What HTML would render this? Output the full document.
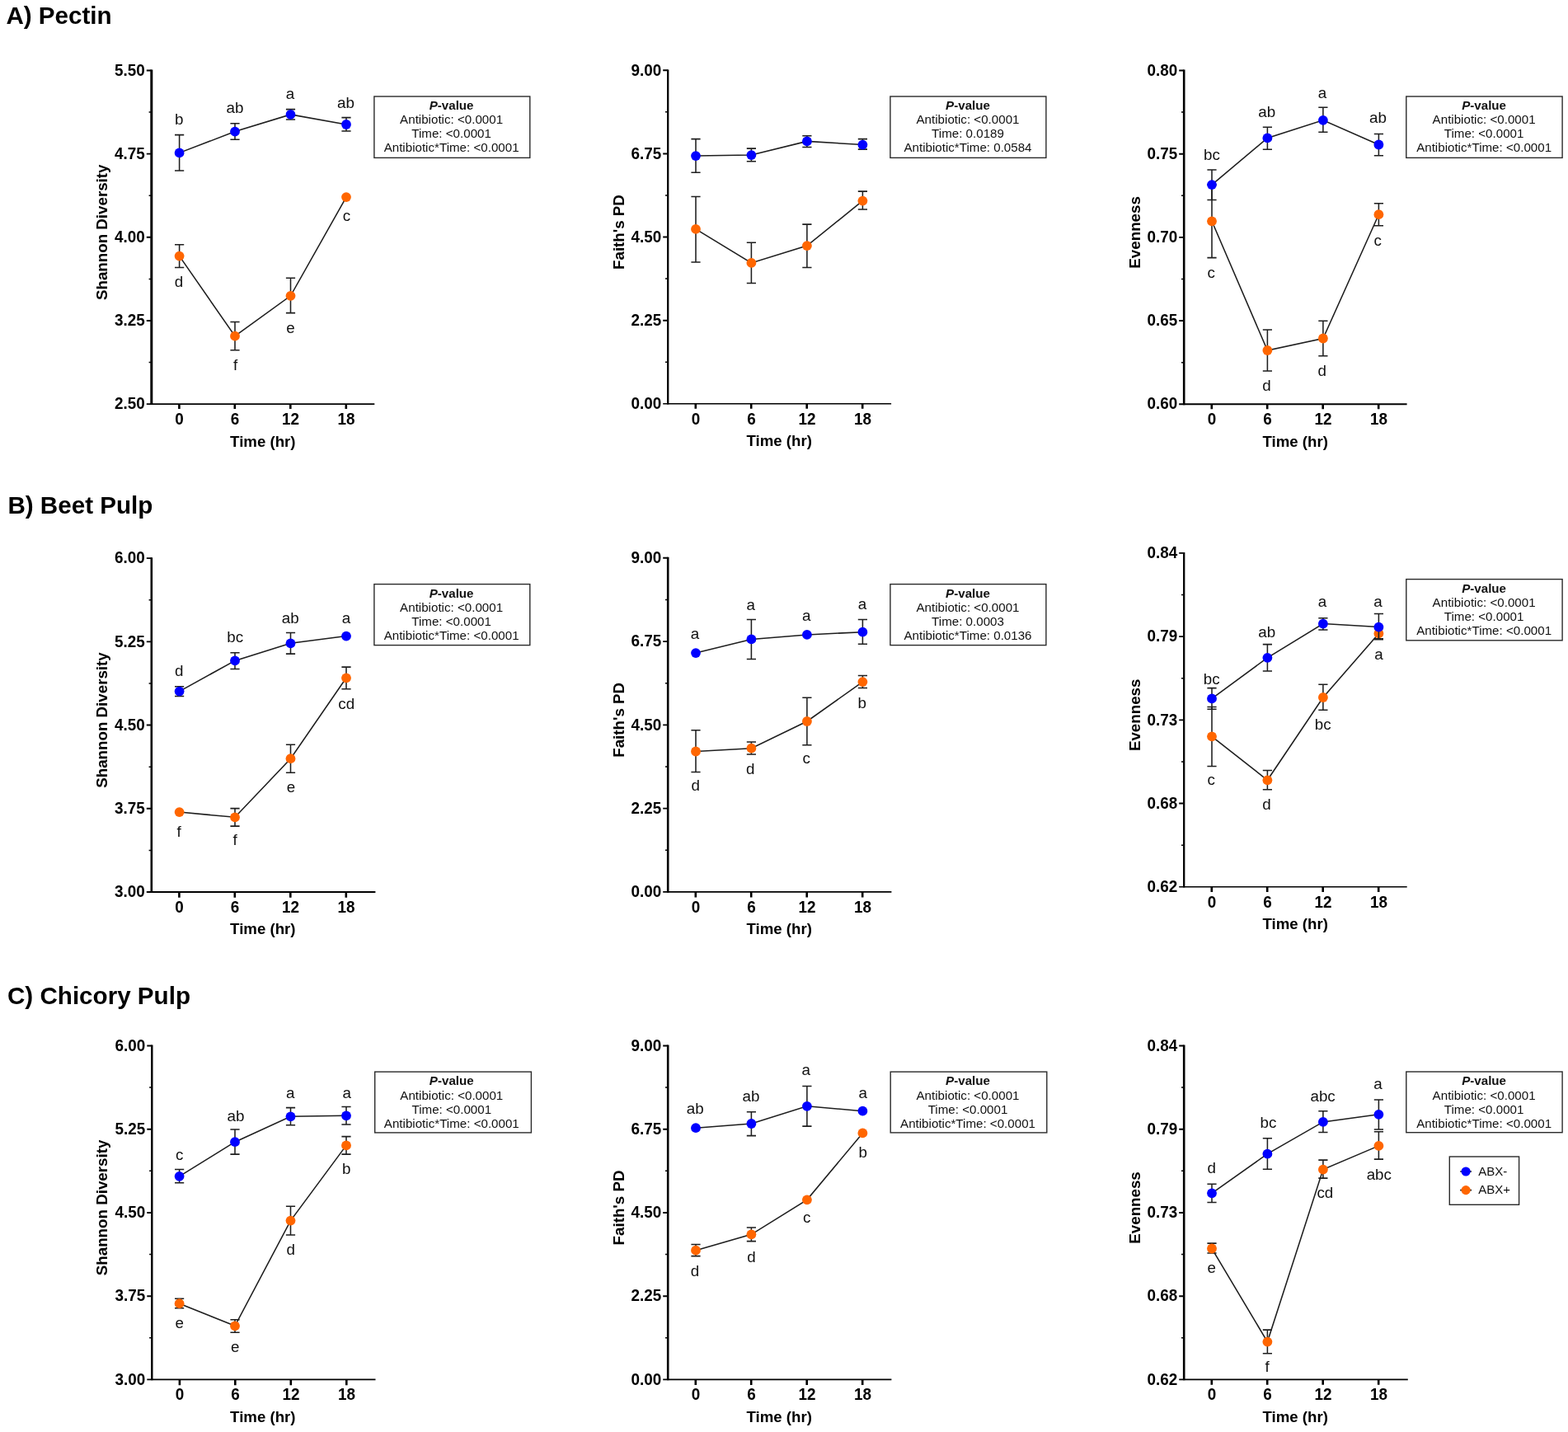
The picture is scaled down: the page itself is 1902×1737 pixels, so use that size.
<!DOCTYPE html>
<html lang="en"><head><meta charset="utf-8"><title>Alpha diversity: Pectin, Beet Pulp, Chicory Pulp</title>
<style>
html,body{margin:0;padding:0;background:#fff;}
body{width:1902px;height:1737px;overflow:hidden;}
svg{display:block;font-family:"Liberation Sans",sans-serif;}
.t{font-weight:700;font-size:29.6px;fill:#000;}
.yl{font-weight:700;font-size:19.5px;fill:#000;text-anchor:end;}
.xl{font-weight:700;font-size:19.5px;fill:#000;text-anchor:middle;}
.al{font-weight:700;font-size:19px;fill:#000;text-anchor:middle;}
.ayl{font-weight:700;font-size:18.5px;fill:#000;text-anchor:middle;}
.an{font-size:19px;fill:#111;text-anchor:middle;}
.pv{font-size:15px;fill:#111;text-anchor:middle;}
.pb{fill:#fff;stroke:#2a2a2a;stroke-width:1.4;}
.ay{stroke:#000;stroke-width:2.6;fill:none;}
.axh{stroke:#000;stroke-width:1.9;fill:none;}
.mt{stroke:#000;stroke-width:1.5;fill:none;}
.ln{stroke:#1e1e1e;stroke-width:1.55;fill:none;}
.eb{stroke:#1e1e1e;stroke-width:1.55;fill:none;}
.b{fill:#0000ff;}
.o{fill:#ff6600;}
.lg{font-size:15px;fill:#111;}
</style></head><body>
<svg width="1902" height="1737" viewBox="0 0 1902 1737">
<rect width="1902" height="1737" fill="#fff"/>
<text class="t" x="7.4" y="29.2">A) Pectin</text>
<text class="t" x="9.4" y="623.4">B) Beet Pulp</text>
<text class="t" x="9" y="1217.6">C) Chicory Pulp</text>
<g>
<path class="ay" style="stroke-width:3" d="M183.8 84.55 V491.05"/>
<path class="axh" style="stroke-width:1.9" d="M177.8 490.1 H454.3"/>
<path class="axh" d="M177.8 85.5 H183.8M177.8 186.65 H183.8M177.8 287.8 H183.8M177.8 388.95 H183.8"/>
<path class="ay" d="M217.4 490.1 V495.9M284.8 490.1 V495.9M352.3 490.1 V495.9M419.8 490.1 V495.9"/>
<path class="mt" d="M180.6 136.07 H183.8M180.6 237.23 H183.8M180.6 338.38 H183.8M180.6 439.53 H183.8"/>
<text class="yl" transform="translate(175.8 91.7) scale(0.970 1)">5.50</text>
<text class="yl" transform="translate(175.8 192.85) scale(0.970 1)">4.75</text>
<text class="yl" transform="translate(175.8 294) scale(0.970 1)">4.00</text>
<text class="yl" transform="translate(175.8 395.15) scale(0.970 1)">3.25</text>
<text class="yl" transform="translate(175.8 496.3) scale(0.970 1)">2.50</text>
<text class="xl" transform="translate(217.6 515.1) scale(0.970 1)">0</text>
<text class="xl" transform="translate(285 515.1) scale(0.970 1)">6</text>
<text class="xl" transform="translate(352.5 515.1) scale(0.970 1)">12</text>
<text class="xl" transform="translate(420 515.1) scale(0.970 1)">18</text>
<text class="al" transform="translate(318.8 541.5) scale(0.982 1)">Time (hr)</text>
<text class="ayl" transform="translate(130.3 281.8) rotate(-90) scale(1.014 1)">Shannon Diversity</text>
<path class="eb" d="M217.6 296.7 V324.4M212 296.7 H223.2M212 324.4 H223.2M285 390.4 V424.7M279.4 390.4 H290.6M279.4 424.7 H290.6M352.5 337.3 V379.6M346.9 337.3 H358.1M346.9 379.6 H358.1"/>
<polyline class="ln" points="217.6,310.6 285,407.7 352.5,358.8 420,239.1"/>
<circle class="o" cx="217.6" cy="310.6" r="5.9"/>
<circle class="o" cx="285" cy="407.7" r="5.9"/>
<circle class="o" cx="352.5" cy="358.8" r="5.9"/>
<circle class="o" cx="420" cy="239.1" r="5.9"/>
<path class="eb" d="M217.6 163.6 V206.9M212 163.6 H223.2M212 206.9 H223.2M285 149.7 V169.2M279.4 149.7 H290.6M279.4 169.2 H290.6M352.5 132.6 V145M346.9 132.6 H358.1M346.9 145 H358.1M420 142.6 V158.9M414.4 142.6 H425.6M414.4 158.9 H425.6"/>
<polyline class="ln" points="217.6,185.4 285,159.6 352.5,138.9 420,151"/>
<circle class="b" cx="217.6" cy="185.4" r="5.9"/>
<circle class="b" cx="285" cy="159.6" r="5.9"/>
<circle class="b" cx="352.5" cy="138.9" r="5.9"/>
<circle class="b" cx="420" cy="151" r="5.9"/>
<text class="an" transform="translate(217.2 151) scale(0.990 1)">b</text>
<text class="an" transform="translate(285 137) scale(0.990 1)">ab</text>
<text class="an" transform="translate(352 120) scale(0.990 1)">a</text>
<text class="an" transform="translate(419.5 131) scale(0.990 1)">ab</text>
<text class="an" transform="translate(217 348) scale(0.990 1)">d</text>
<text class="an" transform="translate(285.6 449) scale(0.990 1)">f</text>
<text class="an" transform="translate(352.5 404) scale(0.990 1)">e</text>
<text class="an" transform="translate(420.5 268) scale(0.990 1)">c</text>
<rect class="pb" x="453.9" y="117" width="188.9" height="74.4"/>
<text class="pv" transform="translate(547.6 133) scale(1.010 1)" font-weight="700"><tspan font-style="italic">P</tspan>-value</text>
<text class="pv" transform="translate(547.6 150) scale(1.010 1)">Antibiotic: &lt;0.0001</text>
<text class="pv" transform="translate(547.6 167) scale(1.010 1)">Time: &lt;0.0001</text>
<text class="pv" transform="translate(547.6 184) scale(1.010 1)">Antibiotic*Time: &lt;0.0001</text>
</g>
<g>
<path class="ay" style="stroke-width:2.3" d="M810.2 84.5 V490.6"/>
<path class="axh" style="stroke-width:1.6" d="M804.2 489.8 H1081.1"/>
<path class="axh" d="M804.2 85.3 H810.2M804.2 186.43 H810.2M804.2 287.55 H810.2M804.2 388.68 H810.2"/>
<path class="ay" d="M843.8 489.8 V495.7M911.2 489.8 V495.7M978.7 489.8 V495.7M1046.2 489.8 V495.7"/>
<path class="mt" d="M807 135.86 H810.2M807 236.99 H810.2M807 338.11 H810.2M807 439.24 H810.2"/>
<text class="yl" transform="translate(802.2 91.5) scale(0.970 1)">9.00</text>
<text class="yl" transform="translate(802.2 192.62) scale(0.970 1)">6.75</text>
<text class="yl" transform="translate(802.2 293.75) scale(0.970 1)">4.50</text>
<text class="yl" transform="translate(802.2 394.88) scale(0.970 1)">2.25</text>
<text class="yl" transform="translate(802.2 496) scale(0.970 1)">0.00</text>
<text class="xl" transform="translate(844 514.8) scale(0.970 1)">0</text>
<text class="xl" transform="translate(911.4 514.8) scale(0.970 1)">6</text>
<text class="xl" transform="translate(978.9 514.8) scale(0.970 1)">12</text>
<text class="xl" transform="translate(1046.4 514.8) scale(0.970 1)">18</text>
<text class="al" transform="translate(945.2 541.2) scale(0.982 1)">Time (hr)</text>
<text class="ayl" transform="translate(756.7 281.55) rotate(-90) scale(1.014 1)">Faith&#39;s PD</text>
<path class="eb" d="M844 238.4 V317.9M838.4 238.4 H849.6M838.4 317.9 H849.6M911.4 294.3 V343.5M905.8 294.3 H917M905.8 343.5 H917M978.9 272.1 V324.4M973.3 272.1 H984.5M973.3 324.4 H984.5M1046.4 232.1 V254M1040.8 232.1 H1052M1040.8 254 H1052"/>
<polyline class="ln" points="844,277.9 911.4,318.9 978.9,298.1 1046.4,243.6"/>
<circle class="o" cx="844" cy="277.9" r="5.9"/>
<circle class="o" cx="911.4" cy="318.9" r="5.9"/>
<circle class="o" cx="978.9" cy="298.1" r="5.9"/>
<circle class="o" cx="1046.4" cy="243.6" r="5.9"/>
<path class="eb" d="M844 168.6 V209.2M838.4 168.6 H849.6M838.4 209.2 H849.6M911.4 180.1 V195.7M905.8 180.1 H917M905.8 195.7 H917M978.9 164.8 V178.4M973.3 164.8 H984.5M973.3 178.4 H984.5M1046.4 168.6 V181.1M1040.8 168.6 H1052M1040.8 181.1 H1052"/>
<polyline class="ln" points="844,189.1 911.4,188.1 978.9,171.4 1046.4,175.6"/>
<circle class="b" cx="844" cy="189.1" r="5.9"/>
<circle class="b" cx="911.4" cy="188.1" r="5.9"/>
<circle class="b" cx="978.9" cy="171.4" r="5.9"/>
<circle class="b" cx="1046.4" cy="175.6" r="5.9"/>
<rect class="pb" x="1079.9" y="117" width="189" height="74.4"/>
<text class="pv" transform="translate(1174 133) scale(1.010 1)" font-weight="700"><tspan font-style="italic">P</tspan>-value</text>
<text class="pv" transform="translate(1174 150) scale(1.010 1)">Antibiotic: &lt;0.0001</text>
<text class="pv" transform="translate(1174 167) scale(1.010 1)">Time: 0.0189</text>
<text class="pv" transform="translate(1174 184) scale(1.010 1)">Antibiotic*Time: 0.0584</text>
</g>
<g>
<path class="ay" style="stroke-width:2.6" d="M1436.2 84.55 V491.2"/>
<path class="axh" style="stroke-width:1.9" d="M1430.2 490.25 H1706.6"/>
<path class="axh" d="M1430.2 85.5 H1436.2M1430.2 186.69 H1436.2M1430.2 287.88 H1436.2M1430.2 389.06 H1436.2"/>
<path class="ay" d="M1469.8 490.25 V496.15M1537.2 490.25 V496.15M1604.7 490.25 V496.15M1672.2 490.25 V496.15"/>
<path class="mt" d="M1433 136.09 H1436.2M1433 237.28 H1436.2M1433 338.47 H1436.2M1433 439.66 H1436.2"/>
<text class="yl" transform="translate(1428.2 91.7) scale(0.970 1)">0.80</text>
<text class="yl" transform="translate(1428.2 192.89) scale(0.970 1)">0.75</text>
<text class="yl" transform="translate(1428.2 294.07) scale(0.970 1)">0.70</text>
<text class="yl" transform="translate(1428.2 395.26) scale(0.970 1)">0.65</text>
<text class="yl" transform="translate(1428.2 496.45) scale(0.970 1)">0.60</text>
<text class="xl" transform="translate(1470 515.25) scale(0.970 1)">0</text>
<text class="xl" transform="translate(1537.4 515.25) scale(0.970 1)">6</text>
<text class="xl" transform="translate(1604.9 515.25) scale(0.970 1)">12</text>
<text class="xl" transform="translate(1672.4 515.25) scale(0.970 1)">18</text>
<text class="al" transform="translate(1571.2 541.65) scale(0.982 1)">Time (hr)</text>
<text class="ayl" transform="translate(1382.7 281.88) rotate(-90) scale(1.014 1)">Evenness</text>
<path class="eb" d="M1470 224.1 V312.6M1464.4 224.1 H1475.6M1464.4 312.6 H1475.6M1537.4 400 V449.9M1531.8 400 H1543M1531.8 449.9 H1543M1604.9 389.2 V431.7M1599.3 389.2 H1610.5M1599.3 431.7 H1610.5M1672.4 246.7 V273.7M1666.8 246.7 H1678M1666.8 273.7 H1678"/>
<polyline class="ln" points="1470,268.3 1537.4,425 1604.9,410.5 1672.4,260.2"/>
<circle class="o" cx="1470" cy="268.3" r="5.9"/>
<circle class="o" cx="1537.4" cy="425" r="5.9"/>
<circle class="o" cx="1604.9" cy="410.5" r="5.9"/>
<circle class="o" cx="1672.4" cy="260.2" r="5.9"/>
<path class="eb" d="M1470 205.9 V242.4M1464.4 205.9 H1475.6M1464.4 242.4 H1475.6M1537.4 154.3 V181.3M1531.8 154.3 H1543M1531.8 181.3 H1543M1604.9 130.3 V160.3M1599.3 130.3 H1610.5M1599.3 160.3 H1610.5M1672.4 162.4 V188.7M1666.8 162.4 H1678M1666.8 188.7 H1678"/>
<polyline class="ln" points="1470,224.1 1537.4,167.4 1604.9,145.8 1672.4,175.5"/>
<circle class="b" cx="1470" cy="224.1" r="5.9"/>
<circle class="b" cx="1537.4" cy="167.4" r="5.9"/>
<circle class="b" cx="1604.9" cy="145.8" r="5.9"/>
<circle class="b" cx="1672.4" cy="175.5" r="5.9"/>
<text class="an" transform="translate(1470 194) scale(0.990 1)">bc</text>
<text class="an" transform="translate(1536.8 142) scale(0.990 1)">ab</text>
<text class="an" transform="translate(1604 119) scale(0.990 1)">a</text>
<text class="an" transform="translate(1671.5 149) scale(0.990 1)">ab</text>
<text class="an" transform="translate(1469.3 337) scale(0.990 1)">c</text>
<text class="an" transform="translate(1536.4 474) scale(0.990 1)">d</text>
<text class="an" transform="translate(1603.6 456) scale(0.990 1)">d</text>
<text class="an" transform="translate(1671.1 298) scale(0.990 1)">c</text>
<rect class="pb" x="1705.8" y="117" width="189.3" height="74.4"/>
<text class="pv" transform="translate(1800.1 133) scale(1.010 1)" font-weight="700"><tspan font-style="italic">P</tspan>-value</text>
<text class="pv" transform="translate(1800.1 150) scale(1.010 1)">Antibiotic: &lt;0.0001</text>
<text class="pv" transform="translate(1800.1 167) scale(1.010 1)">Time: &lt;0.0001</text>
<text class="pv" transform="translate(1800.1 184) scale(1.010 1)">Antibiotic*Time: &lt;0.0001</text>
</g>
<g>
<path class="ay" style="stroke-width:2.6" d="M183.8 676.15 V1082.95"/>
<path class="axh" style="stroke-width:1.9" d="M177.8 1082 H455.4"/>
<path class="axh" d="M177.8 677.1 H183.8M177.8 778.33 H183.8M177.8 879.55 H183.8M177.8 980.77 H183.8"/>
<path class="ay" d="M217.4 1082 V1088.7M284.8 1082 V1088.7M352.3 1082 V1088.7M419.8 1082 V1088.7"/>
<path class="mt" d="M180.6 727.71 H183.8M180.6 828.94 H183.8M180.6 930.16 H183.8M180.6 1031.39 H183.8"/>
<text class="yl" transform="translate(175.8 683.3) scale(0.970 1)">6.00</text>
<text class="yl" transform="translate(175.8 784.53) scale(0.970 1)">5.25</text>
<text class="yl" transform="translate(175.8 885.75) scale(0.970 1)">4.50</text>
<text class="yl" transform="translate(175.8 986.98) scale(0.970 1)">3.75</text>
<text class="yl" transform="translate(175.8 1088.2) scale(0.970 1)">3.00</text>
<text class="xl" transform="translate(217.6 1107) scale(0.970 1)">0</text>
<text class="xl" transform="translate(285 1107) scale(0.970 1)">6</text>
<text class="xl" transform="translate(352.5 1107) scale(0.970 1)">12</text>
<text class="xl" transform="translate(420 1107) scale(0.970 1)">18</text>
<text class="al" transform="translate(318.8 1133.4) scale(0.982 1)">Time (hr)</text>
<text class="ayl" transform="translate(130.3 873.55) rotate(-90) scale(1.014 1)">Shannon Diversity</text>
<path class="eb" d="M285 980.6 V1002.1M279.4 980.6 H290.6M279.4 1002.1 H290.6M352.5 903.2 V937.2M346.9 903.2 H358.1M346.9 937.2 H358.1M420 809.1 V835.8M414.4 809.1 H425.6M414.4 835.8 H425.6"/>
<polyline class="ln" points="217.6,985.1 285,991.3 352.5,920.2 420,822.3"/>
<circle class="o" cx="217.6" cy="985.1" r="5.9"/>
<circle class="o" cx="285" cy="991.3" r="5.9"/>
<circle class="o" cx="352.5" cy="920.2" r="5.9"/>
<circle class="o" cx="420" cy="822.3" r="5.9"/>
<path class="eb" d="M217.6 832.7 V844.5M212 832.7 H223.2M212 844.5 H223.2M285 791.7 V811.5M279.4 791.7 H290.6M279.4 811.5 H290.6M352.5 767.4 V793.1M346.9 767.4 H358.1M346.9 793.1 H358.1"/>
<polyline class="ln" points="217.6,838.6 285,801.4 352.5,780.3 420,771.6"/>
<circle class="b" cx="217.6" cy="838.6" r="5.9"/>
<circle class="b" cx="285" cy="801.4" r="5.9"/>
<circle class="b" cx="352.5" cy="780.3" r="5.9"/>
<circle class="b" cx="420" cy="771.6" r="5.9"/>
<text class="an" transform="translate(217.2 820) scale(0.990 1)">d</text>
<text class="an" transform="translate(285.2 779) scale(0.990 1)">bc</text>
<text class="an" transform="translate(352.2 756) scale(0.990 1)">ab</text>
<text class="an" transform="translate(419.9 756) scale(0.990 1)">a</text>
<text class="an" transform="translate(217.2 1015) scale(0.990 1)">f</text>
<text class="an" transform="translate(285.2 1025) scale(0.990 1)">f</text>
<text class="an" transform="translate(352.9 961) scale(0.990 1)">e</text>
<text class="an" transform="translate(420.2 860) scale(0.990 1)">cd</text>
<rect class="pb" x="453.9" y="708.6" width="188.9" height="74"/>
<text class="pv" transform="translate(547.6 725) scale(1.010 1)" font-weight="700"><tspan font-style="italic">P</tspan>-value</text>
<text class="pv" transform="translate(547.6 742) scale(1.010 1)">Antibiotic: &lt;0.0001</text>
<text class="pv" transform="translate(547.6 759) scale(1.010 1)">Time: &lt;0.0001</text>
<text class="pv" transform="translate(547.6 776) scale(1.010 1)">Antibiotic*Time: &lt;0.0001</text>
</g>
<g>
<path class="ay" style="stroke-width:2.6" d="M810.2 675.85 V1082.85"/>
<path class="axh" style="stroke-width:1.9" d="M804.2 1081.9 H1081.4"/>
<path class="axh" d="M804.2 676.8 H810.2M804.2 778.08 H810.2M804.2 879.35 H810.2M804.2 980.62 H810.2"/>
<path class="ay" d="M843.8 1081.9 V1088.4M911.2 1081.9 V1088.4M978.7 1081.9 V1088.4M1046.2 1081.9 V1088.4"/>
<path class="mt" d="M807 727.44 H810.2M807 828.71 H810.2M807 929.99 H810.2M807 1031.26 H810.2"/>
<text class="yl" transform="translate(802.2 683) scale(0.970 1)">9.00</text>
<text class="yl" transform="translate(802.2 784.28) scale(0.970 1)">6.75</text>
<text class="yl" transform="translate(802.2 885.55) scale(0.970 1)">4.50</text>
<text class="yl" transform="translate(802.2 986.83) scale(0.970 1)">2.25</text>
<text class="yl" transform="translate(802.2 1088.1) scale(0.970 1)">0.00</text>
<text class="xl" transform="translate(844 1106.9) scale(0.970 1)">0</text>
<text class="xl" transform="translate(911.4 1106.9) scale(0.970 1)">6</text>
<text class="xl" transform="translate(978.9 1106.9) scale(0.970 1)">12</text>
<text class="xl" transform="translate(1046.4 1106.9) scale(0.970 1)">18</text>
<text class="al" transform="translate(945.2 1133.3) scale(0.982 1)">Time (hr)</text>
<text class="ayl" transform="translate(756.7 873.35) rotate(-90) scale(1.014 1)">Faith&#39;s PD</text>
<path class="eb" d="M844 885.8 V936.5M838.4 885.8 H849.6M838.4 936.5 H849.6M911.4 900 V915M905.8 900 H917M905.8 915 H917M978.9 846.2 V903.8M973.3 846.2 H984.5M973.3 903.8 H984.5M1046.4 819.5 V834.4M1040.8 819.5 H1052M1040.8 834.4 H1052"/>
<polyline class="ln" points="844,911.5 911.4,907.7 978.9,875 1046.4,827.1"/>
<circle class="o" cx="844" cy="911.5" r="5.9"/>
<circle class="o" cx="911.4" cy="907.7" r="5.9"/>
<circle class="o" cx="978.9" cy="875" r="5.9"/>
<circle class="o" cx="1046.4" cy="827.1" r="5.9"/>
<path class="eb" d="M911.4 751.5 V799.4M905.8 751.5 H917M905.8 799.4 H917M1046.4 751.5 V781.3M1040.8 751.5 H1052M1040.8 781.3 H1052"/>
<polyline class="ln" points="844,792.1 911.4,775.4 978.9,769.9 1046.4,766.7"/>
<circle class="b" cx="844" cy="792.1" r="5.9"/>
<circle class="b" cx="911.4" cy="775.4" r="5.9"/>
<circle class="b" cx="978.9" cy="769.9" r="5.9"/>
<circle class="b" cx="1046.4" cy="766.7" r="5.9"/>
<text class="an" transform="translate(843 775) scale(0.990 1)">a</text>
<text class="an" transform="translate(910.7 740) scale(0.990 1)">a</text>
<text class="an" transform="translate(978.3 753) scale(0.990 1)">a</text>
<text class="an" transform="translate(1046 739) scale(0.990 1)">a</text>
<text class="an" transform="translate(843.7 959) scale(0.990 1)">d</text>
<text class="an" transform="translate(910.3 939) scale(0.990 1)">d</text>
<text class="an" transform="translate(978.3 926) scale(0.990 1)">c</text>
<text class="an" transform="translate(1045.6 859) scale(0.990 1)">b</text>
<rect class="pb" x="1079.9" y="708.6" width="189" height="74"/>
<text class="pv" transform="translate(1174 725) scale(1.010 1)" font-weight="700"><tspan font-style="italic">P</tspan>-value</text>
<text class="pv" transform="translate(1174 742) scale(1.010 1)">Antibiotic: &lt;0.0001</text>
<text class="pv" transform="translate(1174 759) scale(1.010 1)">Time: 0.0003</text>
<text class="pv" transform="translate(1174 776) scale(1.010 1)">Antibiotic*Time: 0.0136</text>
</g>
<g>
<path class="ay" style="stroke-width:2.3" d="M1436.2 670.1 V1076.6"/>
<path class="axh" style="stroke-width:1.6" d="M1430.2 1075.8 H1706.7"/>
<path class="axh" d="M1430.2 670.9 H1436.2M1430.2 772.12 H1436.2M1430.2 873.35 H1436.2M1430.2 974.57 H1436.2"/>
<path class="ay" d="M1469.8 1075.8 V1081.9M1537.2 1075.8 V1081.9M1604.7 1075.8 V1081.9M1672.2 1075.8 V1081.9"/>
<path class="mt" d="M1433 721.51 H1436.2M1433 822.74 H1436.2M1433 923.96 H1436.2M1433 1025.19 H1436.2"/>
<text class="yl" transform="translate(1428.2 677.1) scale(0.970 1)">0.84</text>
<text class="yl" transform="translate(1428.2 778.33) scale(0.970 1)">0.79</text>
<text class="yl" transform="translate(1428.2 879.55) scale(0.970 1)">0.73</text>
<text class="yl" transform="translate(1428.2 980.77) scale(0.970 1)">0.68</text>
<text class="yl" transform="translate(1428.2 1082) scale(0.970 1)">0.62</text>
<text class="xl" transform="translate(1470 1100.8) scale(0.970 1)">0</text>
<text class="xl" transform="translate(1537.4 1100.8) scale(0.970 1)">6</text>
<text class="xl" transform="translate(1604.9 1100.8) scale(0.970 1)">12</text>
<text class="xl" transform="translate(1672.4 1100.8) scale(0.970 1)">18</text>
<text class="al" transform="translate(1571.2 1127.2) scale(0.982 1)">Time (hr)</text>
<text class="ayl" transform="translate(1382.7 867.35) rotate(-90) scale(1.014 1)">Evenness</text>
<path class="eb" d="M1470 857.5 V929.4M1464.4 857.5 H1475.6M1464.4 929.4 H1475.6M1537.4 934.5 V957.8M1531.8 934.5 H1543M1531.8 957.8 H1543M1604.9 830.2 V861.2M1599.3 830.2 H1610.5M1599.3 861.2 H1610.5M1672.4 762.3 V774.8M1666.8 762.3 H1678M1666.8 774.8 H1678"/>
<polyline class="ln" points="1470,893.3 1537.4,946.3 1604.9,846 1672.4,768.4"/>
<circle class="o" cx="1470" cy="893.3" r="5.9"/>
<circle class="o" cx="1537.4" cy="946.3" r="5.9"/>
<circle class="o" cx="1604.9" cy="846" r="5.9"/>
<circle class="o" cx="1672.4" cy="768.4" r="5.9"/>
<path class="eb" d="M1470 834.6 V860.2M1464.4 834.6 H1475.6M1464.4 860.2 H1475.6M1537.4 781.6 V814M1531.8 781.6 H1543M1531.8 814 H1543M1604.9 749.8 V764M1599.3 749.8 H1610.5M1599.3 764 H1610.5M1672.4 744.4 V775.8M1666.8 744.4 H1678M1666.8 775.8 H1678"/>
<polyline class="ln" points="1470,847.4 1537.4,797.8 1604.9,756.6 1672.4,760.6"/>
<circle class="b" cx="1470" cy="847.4" r="5.9"/>
<circle class="b" cx="1537.4" cy="797.8" r="5.9"/>
<circle class="b" cx="1604.9" cy="756.6" r="5.9"/>
<circle class="b" cx="1672.4" cy="760.6" r="5.9"/>
<text class="an" transform="translate(1469.6 830) scale(0.990 1)">bc</text>
<text class="an" transform="translate(1536.8 773) scale(0.990 1)">ab</text>
<text class="an" transform="translate(1604 736) scale(0.990 1)">a</text>
<text class="an" transform="translate(1671.5 736) scale(0.990 1)">a</text>
<text class="an" transform="translate(1469.3 952) scale(0.990 1)">c</text>
<text class="an" transform="translate(1536.4 982) scale(0.990 1)">d</text>
<text class="an" transform="translate(1604.6 885) scale(0.990 1)">bc</text>
<text class="an" transform="translate(1672.5 800) scale(0.990 1)">a</text>
<rect class="pb" x="1705.8" y="702.6" width="189.3" height="74.2"/>
<text class="pv" transform="translate(1800.1 719) scale(1.010 1)" font-weight="700"><tspan font-style="italic">P</tspan>-value</text>
<text class="pv" transform="translate(1800.1 736) scale(1.010 1)">Antibiotic: &lt;0.0001</text>
<text class="pv" transform="translate(1800.1 753) scale(1.010 1)">Time: &lt;0.0001</text>
<text class="pv" transform="translate(1800.1 770) scale(1.010 1)">Antibiotic*Time: &lt;0.0001</text>
</g>
<g>
<path class="ay" style="stroke-width:2.4" d="M184.3 1267.55 V1674.35"/>
<path class="axh" style="stroke-width:1.9" d="M178.3 1673.4 H455.5"/>
<path class="axh" d="M178.3 1268.5 H184.3M178.3 1369.72 H184.3M178.3 1470.95 H184.3M178.3 1572.18 H184.3"/>
<path class="ay" d="M217.9 1673.4 V1680.2M285.3 1673.4 V1680.2M352.8 1673.4 V1680.2M420.3 1673.4 V1680.2"/>
<path class="mt" d="M181.1 1319.11 H184.3M181.1 1420.34 H184.3M181.1 1521.56 H184.3M181.1 1622.79 H184.3"/>
<text class="yl" transform="translate(176.3 1274.7) scale(0.970 1)">6.00</text>
<text class="yl" transform="translate(176.3 1375.92) scale(0.970 1)">5.25</text>
<text class="yl" transform="translate(176.3 1477.15) scale(0.970 1)">4.50</text>
<text class="yl" transform="translate(176.3 1578.38) scale(0.970 1)">3.75</text>
<text class="yl" transform="translate(176.3 1679.6) scale(0.970 1)">3.00</text>
<text class="xl" transform="translate(218.1 1698.4) scale(0.970 1)">0</text>
<text class="xl" transform="translate(285.5 1698.4) scale(0.970 1)">6</text>
<text class="xl" transform="translate(353 1698.4) scale(0.970 1)">12</text>
<text class="xl" transform="translate(420.5 1698.4) scale(0.970 1)">18</text>
<text class="al" transform="translate(318.8 1724.8) scale(0.982 1)">Time (hr)</text>
<text class="ayl" transform="translate(130.3 1464.95) rotate(-90) scale(1.014 1)">Shannon Diversity</text>
<path class="eb" d="M217.6 1575.3 V1586.8M212 1575.3 H223.2M212 1586.8 H223.2M285 1600.7 V1616.3M279.4 1600.7 H290.6M279.4 1616.3 H290.6M352.5 1463.3 V1498M346.9 1463.3 H358.1M346.9 1498 H358.1M420 1378.6 V1400.1M414.4 1378.6 H425.6M414.4 1400.1 H425.6"/>
<polyline class="ln" points="217.6,1581.2 285,1608.3 352.5,1480.6 420,1389.4"/>
<circle class="o" cx="217.6" cy="1581.2" r="5.9"/>
<circle class="o" cx="285" cy="1608.3" r="5.9"/>
<circle class="o" cx="352.5" cy="1480.6" r="5.9"/>
<circle class="o" cx="420" cy="1389.4" r="5.9"/>
<path class="eb" d="M217.6 1418.5 V1434.8M212 1418.5 H223.2M212 1434.8 H223.2M285 1369.9 V1400.1M279.4 1369.9 H290.6M279.4 1400.1 H290.6M352.5 1343.6 V1364.7M346.9 1343.6 H358.1M346.9 1364.7 H358.1M420 1342.5 V1364M414.4 1342.5 H425.6M414.4 1364 H425.6"/>
<polyline class="ln" points="217.6,1426.8 285,1385.2 352.5,1354.3 420,1353.3"/>
<circle class="b" cx="217.6" cy="1426.8" r="5.9"/>
<circle class="b" cx="285" cy="1385.2" r="5.9"/>
<circle class="b" cx="352.5" cy="1354.3" r="5.9"/>
<circle class="b" cx="420" cy="1353.3" r="5.9"/>
<text class="an" transform="translate(217.6 1407) scale(0.990 1)">c</text>
<text class="an" transform="translate(285.9 1360) scale(0.990 1)">ab</text>
<text class="an" transform="translate(352.2 1332) scale(0.990 1)">a</text>
<text class="an" transform="translate(420.6 1332) scale(0.990 1)">a</text>
<text class="an" transform="translate(217.6 1611) scale(0.990 1)">e</text>
<text class="an" transform="translate(285.2 1640) scale(0.990 1)">e</text>
<text class="an" transform="translate(352.6 1522) scale(0.990 1)">d</text>
<text class="an" transform="translate(420.2 1424) scale(0.990 1)">b</text>
<rect class="pb" x="454.7" y="1300.1" width="189.7" height="73.8"/>
<text class="pv" transform="translate(547.8 1316) scale(1.010 1)" font-weight="700"><tspan font-style="italic">P</tspan>-value</text>
<text class="pv" transform="translate(547.8 1334) scale(1.010 1)">Antibiotic: &lt;0.0001</text>
<text class="pv" transform="translate(547.8 1351) scale(1.010 1)">Time: &lt;0.0001</text>
<text class="pv" transform="translate(547.8 1368) scale(1.010 1)">Antibiotic*Time: &lt;0.0001</text>
</g>
<g>
<path class="ay" style="stroke-width:2.6" d="M810.2 1267.55 V1674.35"/>
<path class="axh" style="stroke-width:1.9" d="M804.2 1673.4 H1081.4"/>
<path class="axh" d="M804.2 1268.5 H810.2M804.2 1369.72 H810.2M804.2 1470.95 H810.2M804.2 1572.18 H810.2"/>
<path class="ay" d="M843.8 1673.4 V1679.9M911.2 1673.4 V1679.9M978.7 1673.4 V1679.9M1046.2 1673.4 V1679.9"/>
<path class="mt" d="M807 1319.11 H810.2M807 1420.34 H810.2M807 1521.56 H810.2M807 1622.79 H810.2"/>
<text class="yl" transform="translate(802.2 1274.7) scale(0.970 1)">9.00</text>
<text class="yl" transform="translate(802.2 1375.92) scale(0.970 1)">6.75</text>
<text class="yl" transform="translate(802.2 1477.15) scale(0.970 1)">4.50</text>
<text class="yl" transform="translate(802.2 1578.38) scale(0.970 1)">2.25</text>
<text class="yl" transform="translate(802.2 1679.6) scale(0.970 1)">0.00</text>
<text class="xl" transform="translate(844 1698.4) scale(0.970 1)">0</text>
<text class="xl" transform="translate(911.4 1698.4) scale(0.970 1)">6</text>
<text class="xl" transform="translate(978.9 1698.4) scale(0.970 1)">12</text>
<text class="xl" transform="translate(1046.4 1698.4) scale(0.970 1)">18</text>
<text class="al" transform="translate(945.2 1724.8) scale(0.982 1)">Time (hr)</text>
<text class="ayl" transform="translate(756.7 1464.95) rotate(-90) scale(1.014 1)">Faith&#39;s PD</text>
<path class="eb" d="M844 1509.4 V1523.6M838.4 1509.4 H849.6M838.4 1523.6 H849.6M911.4 1488.9 V1505.6M905.8 1488.9 H917M905.8 1505.6 H917"/>
<polyline class="ln" points="844,1516.7 911.4,1497.3 978.9,1455.3 1046.4,1374.4"/>
<circle class="o" cx="844" cy="1516.7" r="5.9"/>
<circle class="o" cx="911.4" cy="1497.3" r="5.9"/>
<circle class="o" cx="978.9" cy="1455.3" r="5.9"/>
<circle class="o" cx="1046.4" cy="1374.4" r="5.9"/>
<path class="eb" d="M911.4 1348.8 V1377.6M905.8 1348.8 H917M905.8 1377.6 H917M978.9 1317.5 V1366.1M973.3 1317.5 H984.5M973.3 1366.1 H984.5"/>
<polyline class="ln" points="844,1368.2 911.4,1363 978.9,1341.8 1046.4,1347.7"/>
<circle class="b" cx="844" cy="1368.2" r="5.9"/>
<circle class="b" cx="911.4" cy="1363" r="5.9"/>
<circle class="b" cx="978.9" cy="1341.8" r="5.9"/>
<circle class="b" cx="1046.4" cy="1347.7" r="5.9"/>
<text class="an" transform="translate(843.3 1351) scale(0.990 1)">ab</text>
<text class="an" transform="translate(911 1336) scale(0.990 1)">ab</text>
<text class="an" transform="translate(977.6 1304) scale(0.990 1)">a</text>
<text class="an" transform="translate(1046.7 1332) scale(0.990 1)">a</text>
<text class="an" transform="translate(843 1548) scale(0.990 1)">d</text>
<text class="an" transform="translate(911.4 1531) scale(0.990 1)">d</text>
<text class="an" transform="translate(978.7 1483) scale(0.990 1)">c</text>
<text class="an" transform="translate(1046.7 1404) scale(0.990 1)">b</text>
<rect class="pb" x="1080.2" y="1300.1" width="189.6" height="73.8"/>
<text class="pv" transform="translate(1174 1316) scale(1.010 1)" font-weight="700"><tspan font-style="italic">P</tspan>-value</text>
<text class="pv" transform="translate(1174 1334) scale(1.010 1)">Antibiotic: &lt;0.0001</text>
<text class="pv" transform="translate(1174 1351) scale(1.010 1)">Time: &lt;0.0001</text>
<text class="pv" transform="translate(1174 1368) scale(1.010 1)">Antibiotic*Time: &lt;0.0001</text>
</g>
<g>
<path class="ay" style="stroke-width:2.6" d="M1436.2 1267.55 V1674.35"/>
<path class="axh" style="stroke-width:1.9" d="M1430.2 1673.4 H1707.8"/>
<path class="axh" d="M1430.2 1268.5 H1436.2M1430.2 1369.72 H1436.2M1430.2 1470.95 H1436.2M1430.2 1572.18 H1436.2"/>
<path class="ay" d="M1469.8 1673.4 V1679.8M1537.2 1673.4 V1679.8M1604.7 1673.4 V1679.8M1672.2 1673.4 V1679.8"/>
<path class="mt" d="M1433 1319.11 H1436.2M1433 1420.34 H1436.2M1433 1521.56 H1436.2M1433 1622.79 H1436.2"/>
<text class="yl" transform="translate(1428.2 1274.7) scale(0.970 1)">0.84</text>
<text class="yl" transform="translate(1428.2 1375.92) scale(0.970 1)">0.79</text>
<text class="yl" transform="translate(1428.2 1477.15) scale(0.970 1)">0.73</text>
<text class="yl" transform="translate(1428.2 1578.38) scale(0.970 1)">0.68</text>
<text class="yl" transform="translate(1428.2 1679.6) scale(0.970 1)">0.62</text>
<text class="xl" transform="translate(1470 1698.4) scale(0.970 1)">0</text>
<text class="xl" transform="translate(1537.4 1698.4) scale(0.970 1)">6</text>
<text class="xl" transform="translate(1604.9 1698.4) scale(0.970 1)">12</text>
<text class="xl" transform="translate(1672.4 1698.4) scale(0.970 1)">18</text>
<text class="al" transform="translate(1571.2 1724.8) scale(0.982 1)">Time (hr)</text>
<text class="ayl" transform="translate(1382.7 1464.95) rotate(-90) scale(1.014 1)">Evenness</text>
<path class="eb" d="M1470 1508.1 V1519.9M1464.4 1508.1 H1475.6M1464.4 1519.9 H1475.6M1537.4 1613.1 V1641.8M1531.8 1613.1 H1543M1531.8 1641.8 H1543M1604.9 1407.1 V1429.1M1599.3 1407.1 H1610.5M1599.3 1429.1 H1610.5M1672.4 1372.7 V1406.1M1666.8 1372.7 H1678M1666.8 1406.1 H1678"/>
<polyline class="ln" points="1470,1514.5 1537.4,1627.6 1604.9,1418.6 1672.4,1389.9"/>
<circle class="o" cx="1470" cy="1514.5" r="5.9"/>
<circle class="o" cx="1537.4" cy="1627.6" r="5.9"/>
<circle class="o" cx="1604.9" cy="1418.6" r="5.9"/>
<circle class="o" cx="1672.4" cy="1389.9" r="5.9"/>
<path class="eb" d="M1470 1436.2 V1458.4M1464.4 1436.2 H1475.6M1464.4 1458.4 H1475.6M1537.4 1380.8 V1418.3M1531.8 1380.8 H1543M1531.8 1418.3 H1543M1604.9 1347.7 V1373.4M1599.3 1347.7 H1610.5M1599.3 1373.4 H1610.5M1672.4 1333.9 V1370M1666.8 1333.9 H1678M1666.8 1370 H1678"/>
<polyline class="ln" points="1470,1447.3 1537.4,1399.7 1604.9,1360.9 1672.4,1351.8"/>
<circle class="b" cx="1470" cy="1447.3" r="5.9"/>
<circle class="b" cx="1537.4" cy="1399.7" r="5.9"/>
<circle class="b" cx="1604.9" cy="1360.9" r="5.9"/>
<circle class="b" cx="1672.4" cy="1351.8" r="5.9"/>
<text class="an" transform="translate(1469.6 1423) scale(0.990 1)">d</text>
<text class="an" transform="translate(1538.5 1368) scale(0.990 1)">bc</text>
<text class="an" transform="translate(1604.6 1336) scale(0.990 1)">abc</text>
<text class="an" transform="translate(1671.5 1321) scale(0.990 1)">a</text>
<text class="an" transform="translate(1469.6 1544) scale(0.990 1)">e</text>
<text class="an" transform="translate(1537.1 1664) scale(0.990 1)">f</text>
<text class="an" transform="translate(1607.3 1453) scale(0.990 1)">cd</text>
<text class="an" transform="translate(1672.8 1431) scale(0.990 1)">abc</text>
<rect class="pb" x="1705.8" y="1300" width="189.3" height="73.7"/>
<text class="pv" transform="translate(1800.1 1316) scale(1.010 1)" font-weight="700"><tspan font-style="italic">P</tspan>-value</text>
<text class="pv" transform="translate(1800.1 1334) scale(1.010 1)">Antibiotic: &lt;0.0001</text>
<text class="pv" transform="translate(1800.1 1351) scale(1.010 1)">Time: &lt;0.0001</text>
<text class="pv" transform="translate(1800.1 1368) scale(1.010 1)">Antibiotic*Time: &lt;0.0001</text>
</g>
<g>
<rect class="pb" x="1758.3" y="1403.0" width="84.3" height="58.3"/>
<path class="eb" d="M1771.2 1421H1785M1771.2 1443.6H1785"/>
<circle class="b" cx="1778.1" cy="1421" r="5.6"/>
<circle class="o" cx="1778.1" cy="1443.6" r="5.6"/>
<text class="lg" x="1793.3" y="1426">ABX-</text>
<text class="lg" x="1793.3" y="1448">ABX+</text>
</g>
</svg>
</body></html>
